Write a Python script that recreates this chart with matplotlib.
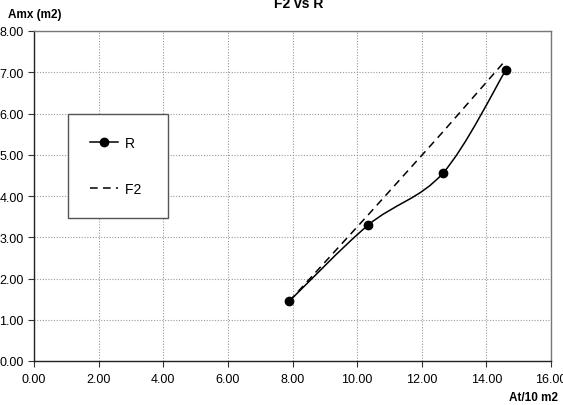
import matplotlib
matplotlib.use("Agg")
import matplotlib.pyplot as plt
from matplotlib.path import Path
from matplotlib.patches import PathPatch
from matplotlib.lines import Line2D

plt.rcParams['font.family'] = ['Liberation Sans', 'DejaVu Sans']

r_x = [7.90, 10.35, 12.65, 14.60]
r_y = [1.45, 3.30, 4.55, 7.05]
f2_x = [7.90, 10.35, 12.65, 14.55]
f2_y = [1.45, 3.55, 5.55, 7.25]
x_ticks = [0, 2, 4, 6, 8, 10, 12, 14, 16]
y_ticks = [0, 1, 2, 3, 4, 5, 6, 7, 8]

fig = plt.figure(figsize=(5.63, 4.06), dpi=100)
ax = fig.add_axes([34/563, 1-362/406, 517/563, 330/406])

# smooth curve (Catmull-Rom as Bezier) through R points
def smooth_path(xs, ys, t=1/6):
    verts = [(xs[0], ys[0])]
    codes = [Path.MOVETO]
    n = len(xs)
    for i in range(n - 1):
        p0 = (xs[i-1], ys[i-1]) if i > 0 else (xs[i], ys[i])
        p1 = (xs[i], ys[i])
        p2 = (xs[i+1], ys[i+1])
        p3 = (xs[i+2], ys[i+2]) if i + 2 < n else (xs[i+1], ys[i+1])
        c1 = (p1[0] + (p2[0]-p0[0])*t, p1[1] + (p2[1]-p0[1])*t)
        c2 = (p2[0] - (p3[0]-p1[0])*t, p2[1] - (p3[1]-p1[1])*t)
        verts += [c1, c2, p2]
        codes += [Path.CURVE4]*3
    return Path(verts, codes)

ax.add_patch(PathPatch(smooth_path(r_x, r_y), facecolor='none', edgecolor='black', lw=1.1, zorder=3))
ax.plot(r_x, r_y, linestyle='none', marker='o', color='black', markersize=6, zorder=4)
ax.plot(f2_x, f2_y, linestyle=(0, (5, 3.5)), color='black', lw=1.1, zorder=3)

ax.set_xlim(0, 16)
ax.set_ylim(0, 8)
ax.set_xticks(x_ticks)
ax.set_yticks(y_ticks)
ax.set_xticklabels([f"{v:.2f}" for v in x_ticks], fontsize=9)
ax.set_yticklabels([f"{v:.2f}" for v in y_ticks], fontsize=9)
ax.tick_params(direction='out', length=4, width=0.8, color='#333333')
ax.tick_params(axis='x', pad=4.5)
ax.tick_params(axis='y', pad=3.5)
ax.grid(True, color='#999999', linestyle=(0, (1, 1.5)), lw=0.8)
for s in ['top', 'right']:
    ax.spines[s].set_color('#777777')
for s in ['left', 'bottom']:
    ax.spines[s].set_color('#222222')
for s in ax.spines.values():
    s.set_linewidth(1.0)

handles = [Line2D([], [], color='black', lw=1.1, marker='o', markersize=6),
           Line2D([], [], color='black', lw=1.1, linestyle=(0, (5, 3.5)))]
leg = ax.legend(handles, ['R', 'F2'], loc='upper left', bbox_to_anchor=(0.066, 0.75),
                fontsize=10, borderpad=1.6, labelspacing=2.3, handlelength=2.0,
                handletextpad=0.5, fancybox=False, framealpha=1, edgecolor='#555555',
                borderaxespad=0)
leg.get_frame().set_linewidth(1.0)
for t in leg.get_texts():
    t.set_text(t.get_text() + ' ')

fig.text(299/563, 1-8/406, 'F2 vs R', ha='center', va='baseline', fontsize=10, fontweight='bold')
fig.text(8/563, 1-15/406, 'Amx (m2)', ha='left', va='center', fontsize=8.5, fontweight='bold')
fig.text(558/563, 1-398/406, 'At/10 m2', ha='right', va='center', fontsize=8.5, fontweight='bold')

fig.savefig('out.png', dpi=100)
